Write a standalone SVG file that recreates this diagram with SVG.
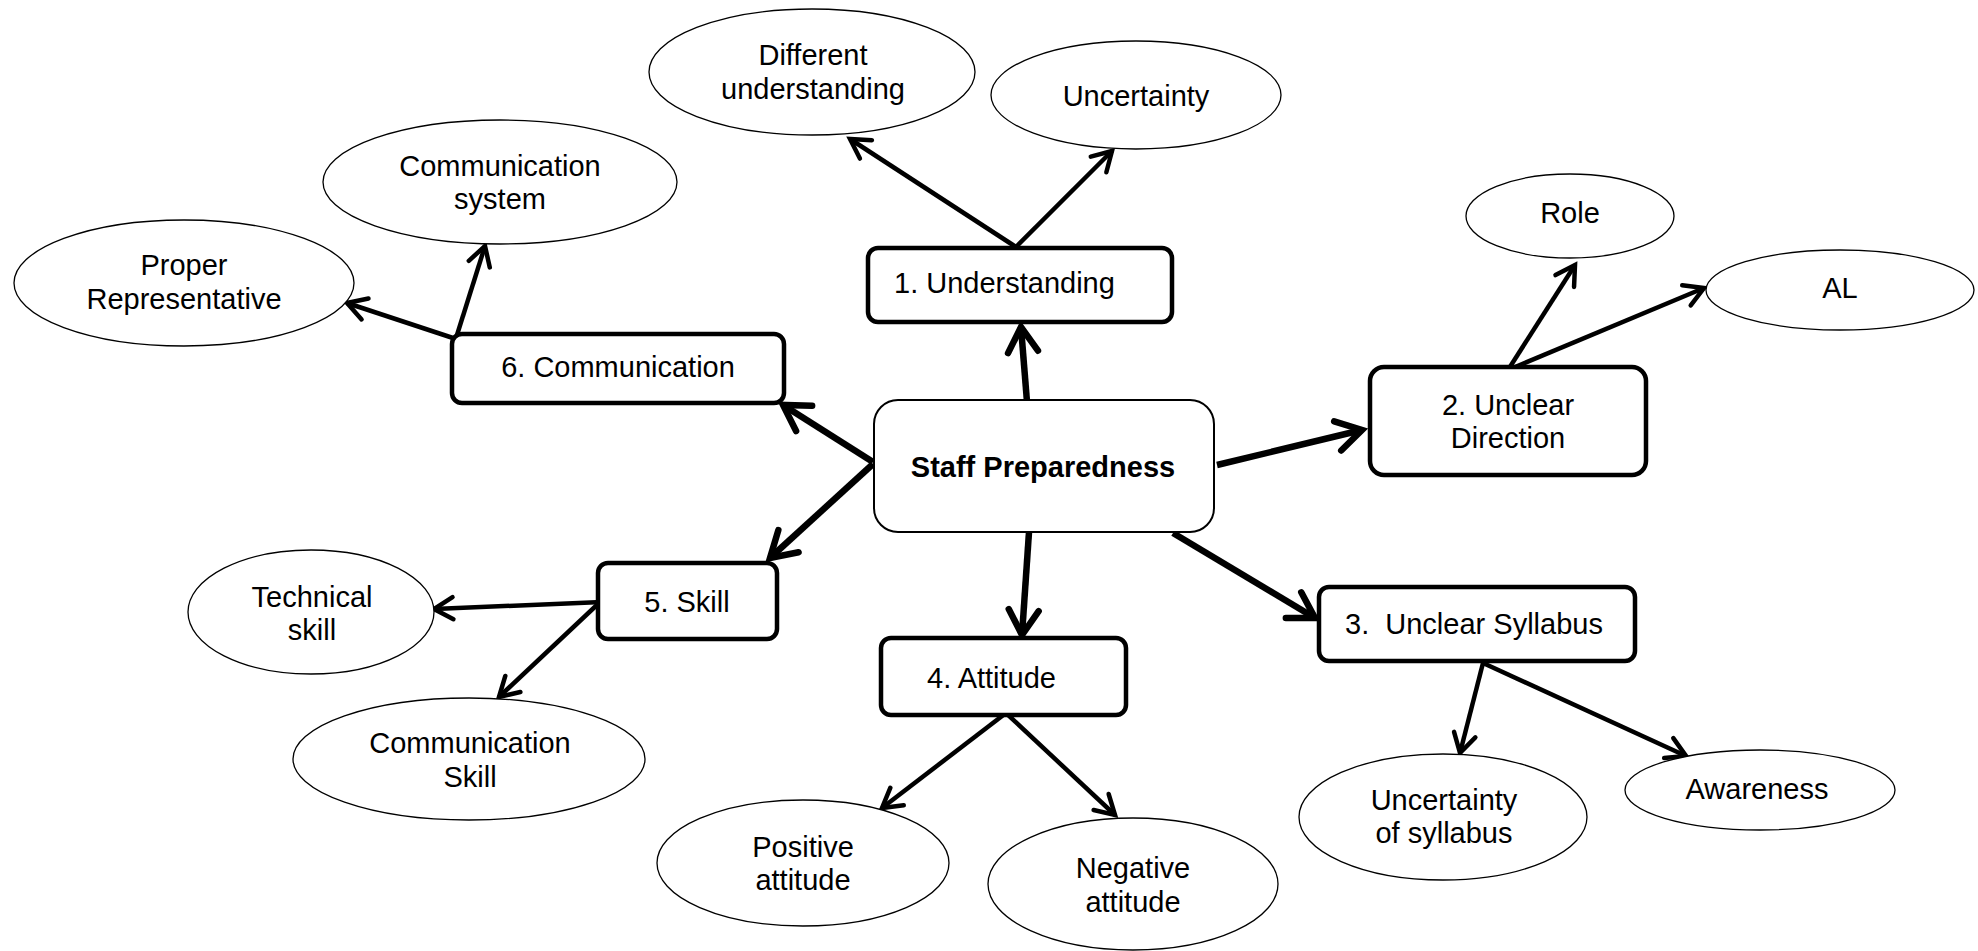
<svg xmlns="http://www.w3.org/2000/svg" width="1978" height="951" viewBox="0 0 1978 951">
<style>
text{font-family:"Liberation Sans",Arial,sans-serif;font-size:29px;fill:#000;text-anchor:middle}
.ell{fill:#fff;stroke:#000;stroke-width:1.3}
.box{fill:#fff;stroke:#000;stroke-width:4.5}
.main{fill:#fff;stroke:#000;stroke-width:2}
.thick{stroke:#000;stroke-width:6.5;fill:none;marker-end:url(#ahT)}
.thin{stroke:#000;stroke-width:4.5;fill:none;marker-end:url(#ah)}
</style>
<defs>
<marker id="ah" markerUnits="userSpaceOnUse" orient="auto" overflow="visible" markerWidth="1" markerHeight="1" refX="0" refY="0">
<path d="M-19,-11 L0,0 L-19,11" fill="none" stroke="#000" stroke-width="4.5" stroke-linecap="round"/>
</marker>
<marker id="ahT" markerUnits="userSpaceOnUse" orient="auto" overflow="visible" markerWidth="1" markerHeight="1" refX="0" refY="0">
<path d="M-25,-15 L0,0 L-25,15" fill="none" stroke="#000" stroke-width="6.5" stroke-linecap="round"/>
</marker>
</defs>
<rect width="1978" height="951" fill="#fff"/>
<g id="connectors">
<line class="thick" x1="1027" y1="402" x2="1021" y2="327"/>
<line class="thick" x1="1217" y1="465" x2="1362" y2="430"/>
<line class="thick" x1="1173" y1="533" x2="1315" y2="618"/>
<line class="thick" x1="1029" y1="532" x2="1022" y2="635"/>
<line class="thick" x1="873" y1="462" x2="783" y2="405"/>
<line class="thick" x1="873" y1="464" x2="770" y2="558"/>
<line class="thin" x1="1016" y1="247" x2="850" y2="139"/>
<line class="thin" x1="1016" y1="247" x2="1112" y2="151"/>
<line class="thin" x1="1508" y1="370" x2="1575" y2="265"/>
<line class="thin" x1="1508" y1="370" x2="1704" y2="288"/>
<line class="thin" x1="1483" y1="663" x2="1460" y2="753"/>
<line class="thin" x1="1483" y1="663" x2="1686" y2="756"/>
<line class="thin" x1="1006" y1="713" x2="882" y2="808"/>
<line class="thin" x1="1006" y1="713" x2="1115" y2="815"/>
<line class="thin" x1="602" y1="602" x2="434" y2="609"/>
<line class="thin" x1="599" y1="603" x2="499" y2="697"/>
<line class="thin" x1="457" y1="335" x2="485" y2="246"/>
<line class="thin" x1="453" y1="338" x2="347" y2="303"/>
</g>
<g id="staff"><rect class="main" x="874" y="400" width="340" height="132" rx="24"/><text x="1043" y="477" font-weight="bold">Staff Preparedness</text></g>
<g id="understanding"><rect class="box" x="868" y="248" width="304" height="74" rx="10"/><text x="894" y="293" style="text-anchor:start">1. Understanding</text></g>
<g id="direction"><rect class="box" x="1370" y="367" width="276" height="108" rx="14"/><text x="1508" y="415">2. Unclear</text><text x="1508" y="448">Direction</text></g>
<g id="syllabus"><rect class="box" x="1319" y="587" width="316" height="74" rx="10"/><text x="1345" y="634" style="text-anchor:start" xml:space="preserve">3.  Unclear Syllabus</text></g>
<g id="attitude"><rect class="box" x="881" y="638" width="245" height="77" rx="10"/><text x="927" y="688" style="text-anchor:start">4. Attitude</text></g>
<g id="skill"><rect class="box" x="598" y="563" width="179" height="76" rx="10"/><text x="687" y="612">5. Skill</text></g>
<g id="communication"><rect class="box" x="452" y="334" width="332" height="69" rx="10"/><text x="618" y="377">6. Communication</text></g>
<g id="diff-understanding"><ellipse class="ell" cx="812" cy="72" rx="163" ry="63"/><text x="813" y="65">Different</text><text x="813" y="99">understanding</text></g>
<g id="uncertainty"><ellipse class="ell" cx="1136" cy="95" rx="145" ry="54"/><text x="1136" y="106">Uncertainty</text></g>
<g id="role"><ellipse class="ell" cx="1570" cy="216" rx="104" ry="42"/><text x="1570" y="223">Role</text></g>
<g id="al"><ellipse class="ell" cx="1840" cy="290" rx="134" ry="40"/><text x="1840" y="298">AL</text></g>
<g id="uncertainty-syllabus"><ellipse class="ell" cx="1443" cy="817" rx="144" ry="63"/><text x="1444" y="810">Uncertainty</text><text x="1444" y="843">of syllabus</text></g>
<g id="awareness"><ellipse class="ell" cx="1760" cy="790" rx="135" ry="40"/><text x="1757" y="799">Awareness</text></g>
<g id="positive"><ellipse class="ell" cx="803" cy="863" rx="146" ry="63"/><text x="803" y="857">Positive</text><text x="803" y="890">attitude</text></g>
<g id="negative"><ellipse class="ell" cx="1133" cy="884" rx="145" ry="66"/><text x="1133" y="878">Negative</text><text x="1133" y="912">attitude</text></g>
<g id="technical"><ellipse class="ell" cx="311" cy="612" rx="123" ry="62"/><text x="312" y="607">Technical</text><text x="312" y="640">skill</text></g>
<g id="comm-skill"><ellipse class="ell" cx="469" cy="759" rx="176" ry="61"/><text x="470" y="753">Communication</text><text x="470" y="787">Skill</text></g>
<g id="comm-system"><ellipse class="ell" cx="500" cy="182" rx="177" ry="62"/><text x="500" y="176">Communication</text><text x="500" y="209">system</text></g>
<g id="proper-rep"><ellipse class="ell" cx="184" cy="283" rx="170" ry="63"/><text x="184" y="275">Proper</text><text x="184" y="309">Representative</text></g>
</svg>
